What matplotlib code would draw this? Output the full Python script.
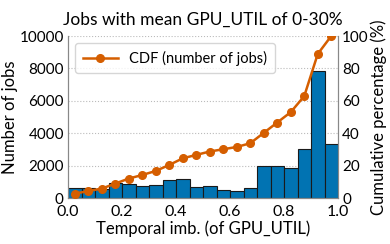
import matplotlib
matplotlib.use("Agg")
import matplotlib.pyplot as plt
import numpy as np

plt.rcParams['font.family'] = ['Lato', 'DejaVu Sans']

bin_edges = [i * 0.05 for i in range(21)]
counts = [640, 640, 580, 900, 870, 720, 820, 1130, 1200, 700,
          740, 470, 430, 640, 1960, 2000, 1860, 3050, 7830, 3360]
cdf_pct = [2.7, 4.3, 5.8, 8.9, 12.0, 14.2, 16.7, 20.4, 24.5, 26.6,
           28.7, 30.1, 31.5, 33.8, 40.2, 46.6, 53.0, 62.9, 88.9, 100]

blue = '#0173b2'
orange = '#d55e00'

fig = plt.figure(figsize=(3.9, 2.44), dpi=100)
ax = fig.add_axes([68/390, 1-198/244, 270/390, 162/244])
lefts = bin_edges[:-1]
widths = [bin_edges[i+1] - bin_edges[i] for i in range(20)]
ax.bar(lefts, counts, width=widths, align='edge', color=blue,
       edgecolor='#1a1a1a', linewidth=0.8, zorder=2)
ax.set_xlim(0, 1)
ax.set_ylim(0, 10000)
ax.set_xticks([0, 0.2, 0.4, 0.6, 0.8, 1.0])
ax.set_yticks([0, 2000, 4000, 6000, 8000, 10000])
ax.yaxis.grid(True, linestyle=':', color='#bbbbbb', linewidth=0.8, zorder=0)
ax.set_axisbelow(True)
ax.spines['top'].set_visible(False)
for s in ['left', 'bottom', 'right']:
    ax.spines[s].set_color('#888888')
ax.tick_params(axis='x', labelsize=11.5, length=0, pad=5)
ax.tick_params(axis='y', labelsize=11, length=0, pad=3)
ax.set_xlabel('Temporal imb. (of GPU_UTIL)', fontsize=12, labelpad=1)
ax.set_ylabel('Number of jobs', fontsize=12, labelpad=1)
ax.set_title('Jobs with mean GPU_UTIL of 0-30%', fontsize=12.5, pad=8)

ax2 = ax.twinx()
centers = [(bin_edges[i] + bin_edges[i+1]) / 2 for i in range(20)]
ax2.plot(centers, cdf_pct, color=orange, marker='o', markersize=5.5,
         linewidth=1.8, label='CDF (number of jobs)', zorder=3)
ax2.set_ylim(0, 100)
ax2.set_yticks([0, 20, 40, 60, 80, 100])
ax2.spines['top'].set_visible(False)
for s in ['left', 'bottom', 'right']:
    ax2.spines[s].set_color('#888888')
ax2.tick_params(labelsize=11, length=0, pad=3)
ax2.set_ylabel('Cumulative percentage (%)', fontsize=12, labelpad=1)
ax2.legend(loc='upper left', fontsize=10.5, frameon=True, fancybox=True,
           edgecolor='#cccccc', borderpad=0.5, handlelength=2.4)

fig.savefig('out.png', dpi=100)
